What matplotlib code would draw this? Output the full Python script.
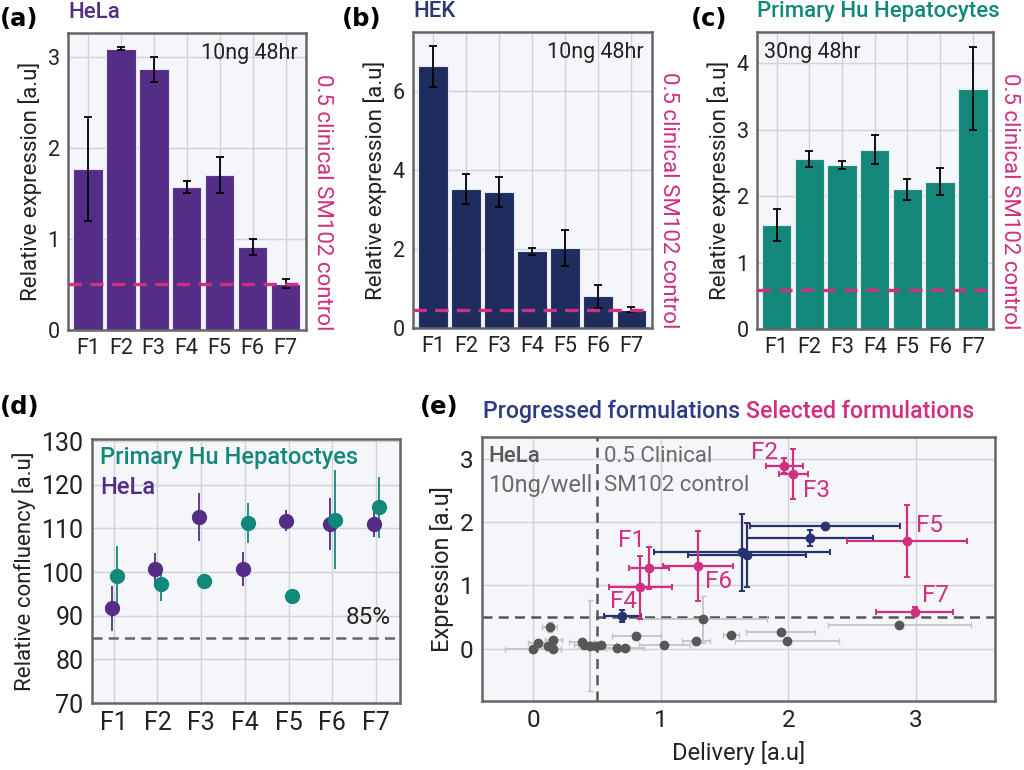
import matplotlib
matplotlib.use("Agg")
import matplotlib.pyplot as plt
import numpy as np

plt.rcParams['font.family'] = ['Roboto', 'DejaVu Sans']
plt.rcParams['font.weight'] = 'normal'

# ---------------- data ----------------
formulations = ["F1", "F2", "F3", "F4", "F5", "F6", "F7"]

hela_expr = [1.77, 3.09, 2.86, 1.57, 1.70, 0.91, 0.51]
hela_err = [0.57, 0.02, 0.14, 0.065, 0.20, 0.09, 0.05]
hela_ctrl = 0.5

hek_expr = [6.63, 3.52, 3.45, 1.94, 2.02, 0.80, 0.46]
hek_err = [0.52, 0.38, 0.38, 0.09, 0.46, 0.30, 0.06]
hek_ctrl = 0.46

hep_expr = [1.57, 2.56, 2.47, 2.70, 2.10, 2.22, 3.62]
hep_err = [0.24, 0.125, 0.06, 0.22, 0.165, 0.20, 0.63]
hep_ctrl = 0.59

conf_hela = [91.7, 100.8, 112.6, 100.7, 111.8, 111.0, 111.1]
conf_hela_err = [5.2, 3.5, 5.5, 4.0, 2.4, 6.0, 3.0]
conf_hep = [99.0, 97.3, 98.0, 111.3, 94.5, 112.0, 114.8]
conf_hep_err = [7.0, 3.9, 1.0, 4.6, 1.0, 11.3, 7.0]
conf_threshold = 85

gray_x = [0.00, 0.04, 0.12, 0.13, 0.16, 0.16, 0.38, 0.40, 0.45, 0.49, 0.53,
          0.66, 0.72, 0.81, 1.03, 1.28, 1.33, 1.55, 1.94, 1.99, 2.87]
gray_y = [0.00, 0.09, 0.05, 0.35, 0.14, 0.00, 0.11, 0.07, 0.05, 0.05, 0.07,
          0.01, 0.02, 0.20, 0.06, 0.12, 0.47, 0.22, 0.26, 0.13, 0.37]
gray_xerr = [0.22, 0.08, 0.06, 0.06, 0.07, 0.06, 0.10, 0.08, 0.10, 0.06, 0.12,
             0.10, 0.15, 0.19, 0.20, 0.11, 0.50, 0.06, 0.27, 0.41, 0.56]
gray_yerr = [0.02, 0.03, 0.03, 0.08, 0.05, 0.03, 0.03, 0.02, 0.72, 0.03, 0.04,
             0.02, 0.05, 0.03, 0.03, 0.05, 0.37, 0.03, 0.03, 0.03, 0.03]

blue_x = [0.70, 1.636, 1.678, 2.17, 2.288]
blue_y = [0.52, 1.52, 1.48, 1.75, 1.94]
blue_xerr = [0.145, 0.69, 0.46, 0.49, 0.59]
blue_yerr = [0.09, 0.60, 0.51, 0.13, 0.02]

pink_x = [0.91, 1.97, 2.04, 0.84, 2.93, 1.29, 2.99]
pink_y = [1.27, 2.89, 2.76, 0.97, 1.70, 1.31, 0.59]
pink_xerr = [0.155, 0.145, 0.115, 0.246, 0.47, 0.275, 0.30]
pink_yerr = [0.33, 0.12, 0.39, 0.50, 0.57, 0.55, 0.065]
pink_label_x = [0.77, 1.81, 2.22, 0.71, 3.11, 1.45, 3.15]
pink_label_y = [1.71, 3.10, 2.50, 0.75, 1.95, 1.07, 0.84]

ctrl_delivery = 0.5
ctrl_expression = 0.5

# ---------------- style ----------------
PURPLE = "#542D87"
NAVY = "#1F2D5E"
TEAL = "#13887A"
PINK = "#D12F7F"
BLUE = "#26336F"
GRAYPT = "#575757"
GRAYERR = "#C4C4C4"
BG = "#F5F6F9"
GRID = "#D2D2D6"
SPINE = "#666666"
TXT = "#222222"
LETTER_FONT = ['DejaVu Sans']

fig = plt.figure(figsize=(10.24, 7.70), dpi=100)


def style_axes(ax):
    ax.set_facecolor(BG)
    ax.set_axisbelow(True)
    ax.grid(True, color=GRID, lw=1.0)
    for s in ax.spines.values():
        s.set_color(SPINE)
        s.set_linewidth(1.8)
    ax.tick_params(length=0, pad=6, labelcolor=TXT)


def bar_panel(rect, vals, errs, ctrl, color, yticks, ylim, note, note_x, note_ha,
              letter, title, title_color, letter_x):
    ax = fig.add_axes(rect)
    style_axes(ax)
    x = np.arange(len(formulations))
    ax.bar(x, vals, width=0.9, color=color, edgecolor="#E6E6EE", lw=0.8, zorder=2)
    ax.errorbar(x, vals, yerr=errs, fmt="none", ecolor="black", elinewidth=1.3,
                capsize=3, capthick=1.3, zorder=3)
    ax.axhline(ctrl, color=PINK, lw=2.4, dashes=(4, 2.5), zorder=4)
    ax.set_xlim(-0.6, 6.62)
    ax.set_ylim(*ylim)
    ax.set_xticks(x)
    ax.set_xticklabels(formulations)
    ax.set_yticks(yticks)
    ax.tick_params(labelsize=15.5)
    ax.set_ylabel("Relative expression [a.u]", fontsize=16, color=TXT, labelpad=4)
    ax.text(note_x, 0.965, note, transform=ax.transAxes, ha=note_ha, va="top",
            fontsize=15.5, color=TXT)
    ax.text(1.025, 0.0, "0.5 clinical SM102 control", transform=ax.transAxes,
            rotation=-90, ha="left", va="bottom", fontsize=16, color=PINK)
    fig.text(letter_x, 0.975, letter, fontsize=17.5, fontweight="bold", ha="left",
             va="center", color="black", family=LETTER_FONT)
    ax.text(0.0, 1.035, title, transform=ax.transAxes, ha="left", va="bottom",
            fontsize=16, fontweight="medium", color=title_color)
    return ax


bar_panel([0.0664, 0.5714, 0.2324, 0.3857], hela_expr, hela_err, hela_ctrl, PURPLE,
          [0, 1, 2, 3], (0, 3.26), "10ng 48hr", 0.965, "right",
          "(a)", "HeLa", PURPLE, 0.0)
bar_panel([0.4033, 0.5740, 0.2334, 0.3844], hek_expr, hek_err, hek_ctrl, NAVY,
          [0, 2, 4, 6], (0, 7.5), "10ng 48hr", 0.965, "right",
          "(b)", "HEK", "#2B3A73", 0.334)
bar_panel([0.7393, 0.5727, 0.2305, 0.3857], hep_expr, hep_err, hep_ctrl, TEAL,
          [0, 1, 2, 3, 4], (0, 4.47), "30ng 48hr", 0.03, "left",
          "(c)", "Primary Hu Hepatocytes", TEAL, 0.675)

# ---------------- panel d ----------------
axd = fig.add_axes([0.0898, 0.0870, 0.3008, 0.3429])
style_axes(axd)
xd = np.arange(len(formulations))
axd.errorbar(xd - 0.05, conf_hela, yerr=conf_hela_err, fmt="o", color=PURPLE,
             ms=10, elinewidth=1.3, capsize=0, zorder=3)
axd.errorbar(xd + 0.07, conf_hep, yerr=conf_hep_err, fmt="o", color=TEAL,
             ms=10, elinewidth=1.3, capsize=0, zorder=3)
axd.axhline(conf_threshold, color="#666666", lw=1.8, dashes=(4, 2.5), zorder=2)
axd.set_xlim(-0.5, 6.55)
axd.set_ylim(70, 130.5)
axd.set_xticks(xd)
axd.set_xticklabels(formulations)
axd.set_yticks([70, 80, 90, 100, 110, 120, 130])
axd.tick_params(labelsize=18)
axd.set_ylabel("Relative confluency [a.u]", fontsize=16, color=TXT, labelpad=4)
axd.text(0.026, 0.928, "Primary Hu Hepatoctyes", transform=axd.transAxes,
         ha="left", va="center", fontsize=17, fontweight="medium", color=TEAL)
axd.text(0.026, 0.818, "HeLa", transform=axd.transAxes,
         ha="left", va="center", fontsize=17, fontweight="medium", color=PURPLE)
axd.text(0.97, 89.5, "85%", transform=axd.get_yaxis_transform(), ha="right",
         va="center", fontsize=17.5, color=TXT)
fig.text(0.0, 0.472, "(d)", fontsize=17.5, fontweight="bold", ha="left",
         va="center", color="black", family=LETTER_FONT)

# ---------------- panel e ----------------
axe = fig.add_axes([0.4707, 0.0896, 0.5010, 0.3429])
style_axes(axe)
axe.errorbar(gray_x, gray_y, xerr=gray_xerr, yerr=gray_yerr, fmt="o",
             color=GRAYPT, ecolor=GRAYERR, ms=6, elinewidth=1.3, capsize=2,
             capthick=1.0, zorder=3)
axe.errorbar(blue_x, blue_y, xerr=blue_xerr, yerr=blue_yerr, fmt="o",
             color=BLUE, ecolor=BLUE, ms=6, elinewidth=1.6, capsize=2.5,
             capthick=1.4, zorder=4)
axe.errorbar(pink_x, pink_y, xerr=pink_xerr, yerr=pink_yerr, fmt="o",
             color=PINK, ecolor=PINK, ms=6, elinewidth=1.6, capsize=2.5,
             capthick=1.4, zorder=5)
for lab, lx, ly in zip(formulations, pink_label_x, pink_label_y):
    axe.text(lx, ly, lab, ha="center", va="center", fontsize=17.5, color=PINK,
             zorder=6)
axe.axvline(ctrl_delivery, color="#555555", lw=1.8, dashes=(4, 2.5), zorder=2)
axe.axhline(ctrl_expression, color="#555555", lw=1.8, dashes=(4, 2.5), zorder=2)
axe.set_xlim(-0.40, 3.62)
axe.set_ylim(-0.82, 3.34)
axe.set_xticks([0, 1, 2, 3])
axe.set_yticks([0, 1, 2, 3])
axe.tick_params(labelsize=17.5)
axe.set_xlabel("Delivery [a.u]", fontsize=17, color=TXT, labelpad=6)
axe.set_ylabel("Expression [a.u]", fontsize=17, color=TXT, labelpad=4)
axe.text(0.012, 0.925, "HeLa", transform=axe.transAxes, ha="left", va="center",
         fontsize=16, fontweight="medium", color="#5A5A5A")
axe.text(0.012, 0.815, "10ng/well", transform=axe.transAxes, ha="left",
         va="center", fontsize=17, color="#6A6A6A")
axe.text(0.555, 0.925, "0.5 Clinical", transform=axe.get_xaxis_transform(),
         ha="left", va="center", fontsize=16, color="#6A6A6A")
axe.text(0.555, 0.815, "SM102 control", transform=axe.get_xaxis_transform(),
         ha="left", va="center", fontsize=16, color="#6A6A6A")
fig.text(0.41, 0.472, "(e)", fontsize=17.5, fontweight="bold", ha="left",
         va="center", color="black", family=LETTER_FONT)
t1 = fig.text(0.4717, 0.466, "Progressed formulations ", fontsize=16.7,
              fontweight="medium", color="#2D3B86", ha="left", va="center")
fig.canvas.draw()
bb = t1.get_window_extent()
x_next = bb.x1 / fig.bbox.width
fig.text(x_next, 0.466, "Selected formulations", fontsize=16.7,
         fontweight="medium", color=PINK, ha="left", va="center")

fig.savefig("out.png", dpi=100)
